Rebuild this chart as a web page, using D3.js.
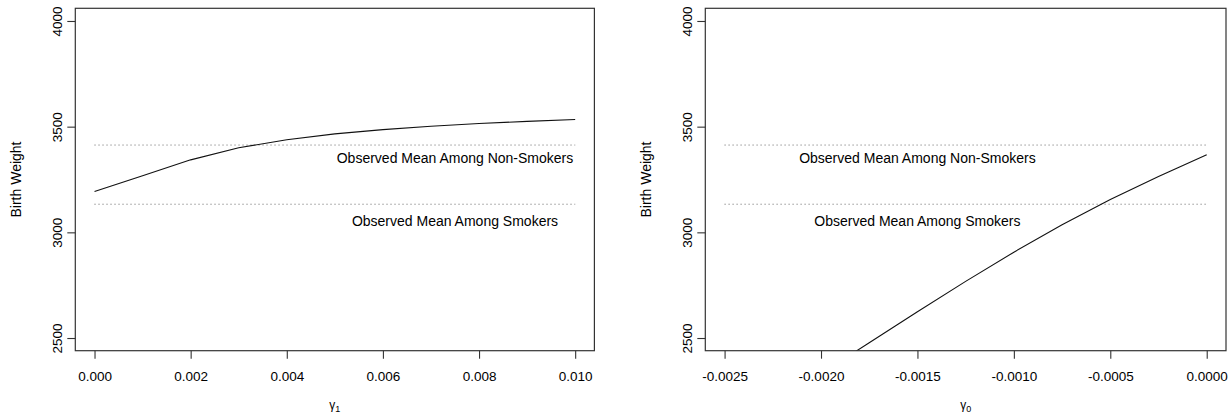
<!DOCTYPE html>
<html>
<head>
<meta charset="utf-8">
<script src="https://cdn.jsdelivr.net/npm/d3@7"></script>
<style>
  body { margin: 0; background: #fff; }
  svg text { font-family: "Liberation Sans", Arial, Helvetica, sans-serif; fill: #000; }
</style>
</head>
<body>
<div id="chart"></div>
<script>
// sensitivity curves
const gamma1 = [0, 0.001, 0.002, 0.003, 0.004, 0.005, 0.006, 0.007, 0.008, 0.009, 0.010];
const bwGamma1 = [3193, 3268, 3343, 3400, 3438, 3466, 3486, 3502, 3515, 3525, 3534];

const gamma0 = [-0.002, -0.00175, -0.0015, -0.00125, -0.001, -0.00075, -0.0005, -0.00025, 0];
const bwGamma0 = [2330, 2478, 2624, 2768, 2906, 3036, 3155, 3264, 3367];

// observed means
const meanNonSmokers = 3413;
const meanSmokers = 3133;
const labelNonSmokers = "Observed Mean Among Non-Smokers";
const labelSmokers = "Observed Mean Among Smokers";

// axis ticks
const xTicks1 = [0, 0.002, 0.004, 0.006, 0.008, 0.010];
const xTickLabels1 = ["0.000", "0.002", "0.004", "0.006", "0.008", "0.010"];
const xTicks2 = [-0.0025, -0.002, -0.0015, -0.001, -0.0005, 0];
const xTickLabels2 = ["-0.0025", "-0.0020", "-0.0015", "-0.0010", "-0.0005", "0.0000"];
const yTicks = [2500, 3000, 3500, 4000];

const width = 1232;
const height = 414;

const svg = d3.select("#chart")
  .append("svg")
  .attr("width", width)
  .attr("height", height);

const plotTop = 8.3, plotBottom = 350.7;

const y = d3.scaleLinear().domain([2440, 4060]).range([plotBottom, plotTop]);

const panels = [
  {
    id: "p1", left: 75.3, right: 594.4, domain: [-0.0004, 0.0104],
    xs: gamma1, ys: bwGamma1, ticks: xTicks1, tickLabels: xTickLabels1,
    sub: "1", labelX: 0.0075
  },
  {
    id: "p2", left: 705.3, right: 1226, domain: [-0.0026, 0.0001],
    xs: gamma0, ys: bwGamma0, ticks: xTicks2, tickLabels: xTickLabels2,
    sub: "0", labelX: -0.0015
  }
];

panels.forEach(p => {
  const x = d3.scaleLinear().domain(p.domain).range([p.left, p.right]);
  const g = svg.append("g");

  g.append("clipPath").attr("id", "clip-" + p.id)
    .append("rect")
    .attr("x", p.left).attr("y", plotTop)
    .attr("width", p.right - p.left).attr("height", plotBottom - plotTop);

  // dotted reference lines
  [meanNonSmokers, meanSmokers].forEach(m => {
    g.append("line")
      .attr("x1", x(p.ticks[0])).attr("x2", x(p.ticks[p.ticks.length - 1]))
      .attr("y1", y(m)).attr("y2", y(m))
      .attr("stroke", "#666")
      .attr("stroke-width", 1)
      .attr("stroke-dasharray", "1,3");
  });

  g.append("text")
    .attr("x", x(p.labelX)).attr("y", y(3350))
    .attr("dy", "0.36em")
    .attr("text-anchor", "middle")
    .style("font-size", "14px")
    .text(labelNonSmokers);

  g.append("text")
    .attr("x", x(p.labelX)).attr("y", y(3054))
    .attr("dy", "0.36em")
    .attr("text-anchor", "middle")
    .style("font-size", "14px")
    .text(labelSmokers);

  // curve
  const line = d3.line()
    .x((d, i) => x(p.xs[i]))
    .y(d => y(d));

  g.append("path")
    .datum(p.ys)
    .attr("clip-path", "url(#clip-" + p.id + ")")
    .attr("fill", "none")
    .attr("stroke", "#111")
    .attr("stroke-width", 1.1)
    .attr("d", line);

  // box
  g.append("rect")
    .attr("x", p.left).attr("y", plotTop)
    .attr("width", p.right - p.left).attr("height", plotBottom - plotTop)
    .attr("fill", "none")
    .attr("stroke", "#333")
    .attr("stroke-width", 1.2);

  // x axis
  const xAxis = d3.axisBottom(x)
    .tickValues(p.ticks)
    .tickFormat((d, i) => p.tickLabels[i])
    .tickSize(8)
    .tickPadding(13);

  const gx = g.append("g")
    .attr("transform", `translate(0,${plotBottom})`)
    .call(xAxis);
  gx.select(".domain").remove();
  gx.selectAll(".tick line").attr("stroke", "#333").attr("stroke-width", 1.1);
  gx.selectAll(".tick text")
    .style("font-size", "13.5px")
    .style("font-family", "'Liberation Sans', Arial, sans-serif")
    .attr("fill", "#000");

  // y axis
  const yAxis = d3.axisLeft(y)
    .tickValues(yTicks)
    .tickFormat(d3.format("d"))
    .tickSize(8);

  const gy = g.append("g")
    .attr("transform", `translate(${p.left},0)`)
    .call(yAxis);
  gy.select(".domain").remove();
  gy.selectAll(".tick line").attr("stroke", "#333").attr("stroke-width", 1.1);
  gy.selectAll(".tick text")
    .attr("transform", "rotate(-90)")
    .attr("x", 0)
    .attr("y", -13.6)
    .attr("dy", 0)
    .style("text-anchor", "middle")
    .style("font-size", "13.5px")
    .style("font-family", "'Liberation Sans', Arial, sans-serif")
    .attr("fill", "#000");

  // axis titles
  g.append("text")
    .attr("transform", `translate(${p.left - 54},${(plotTop + plotBottom) / 2}) rotate(-90)`)
    .attr("text-anchor", "middle")
    .style("font-size", "14px")
    .text("Birth Weight");

  const t = g.append("text")
    .attr("x", (p.left + p.right) / 2)
    .attr("y", 409)
    .attr("text-anchor", "middle")
    .style("font-size", "12px");
  t.append("tspan").text("\u03b3");
  t.append("tspan").attr("dy", 3).style("font-size", "9px").text(p.sub);
});
</script>
</body>
</html>
